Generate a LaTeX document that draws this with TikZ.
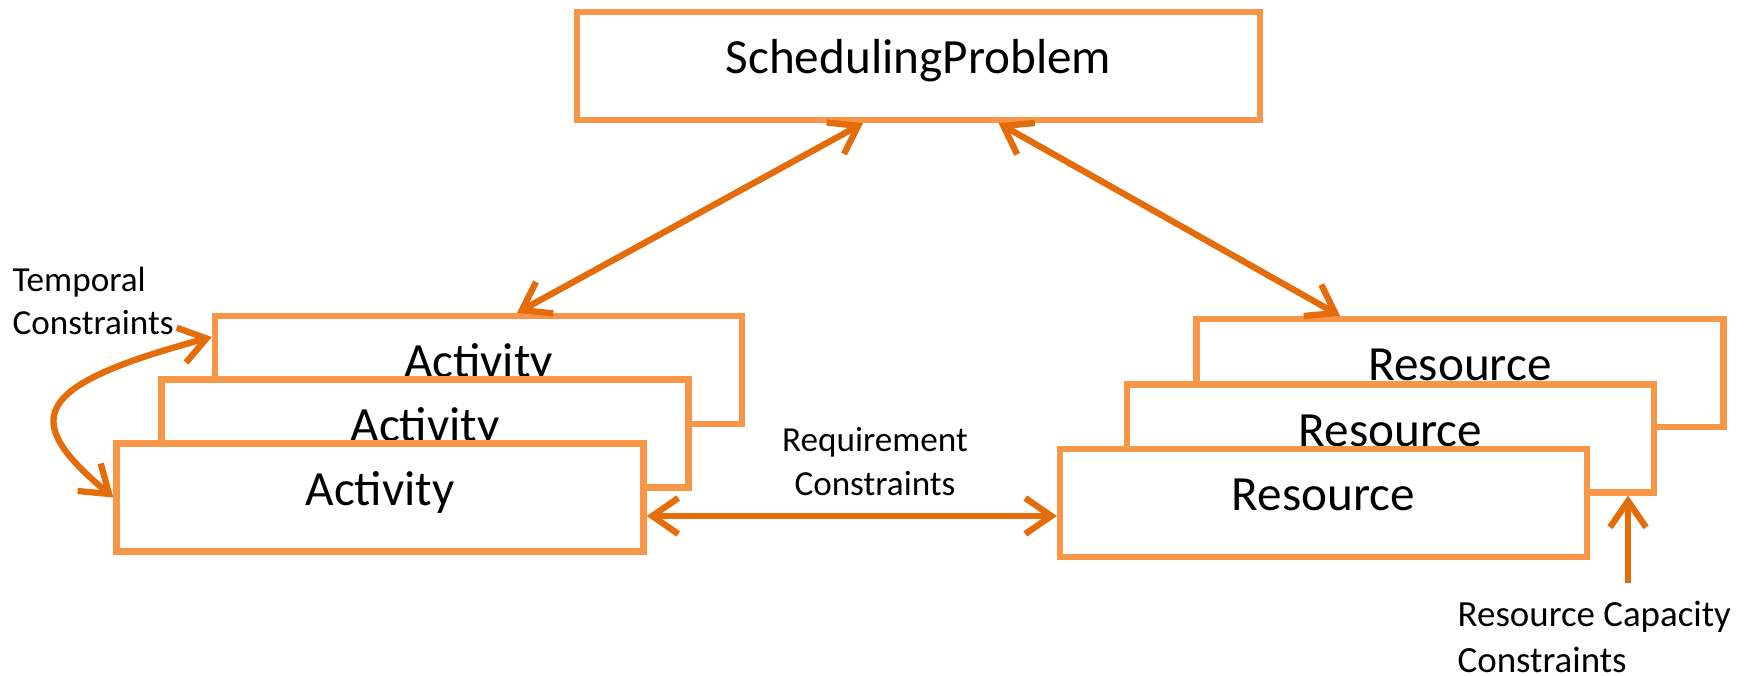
\documentclass[tikz,border=0pt]{standalone}
\usepackage{fontspec}
\setmainfont{Carlito}
\usetikzlibrary{arrows.meta}

\definecolor{boxorange}{RGB}{247,150,70}
\definecolor{linkorange}{RGB}{228,108,10}

\tikzset{
  entity/.style={draw=boxorange, line width=1.8pt, fill=white, inner sep=0pt,
    minimum width=5.27cm, minimum height=1.08cm,
    text height=0.35cm, text depth=0.2cm, font=\fontsize{14}{16}\selectfont},
  link/.style={draw=linkorange, line width=1.8pt},
  note/.style={inner sep=0pt, font=\fontsize{10}{12.4}\selectfont}
}

\begin{document}
\begin{tikzpicture}[>={Straight Barb[length=2.6mm,width=3.6mm]}]
    \useasboundingbox (0,0) rectangle (17.47,-6.76);

    % problem on top
    \node[entity, minimum width=6.83cm] (sp) at (9.185,-0.66) {SchedulingProblem};

    % activities, back to front
    \node[entity] (a1) at (4.785,-3.70) {Activity};
    \node[entity] (a2) at (4.25,-4.335) {Activity};
    \node[entity] (a3) at (3.80,-4.975) {Activity};

    % resources, back to front
    \node[entity] (r1) at (14.60,-3.73) {Resource};
    \node[entity] (r2) at (13.905,-4.385) {Resource};
    \node[entity] (r3) at (13.235,-5.03) {Resource};

    % constraint labels (base = last line)
    \node[note, anchor=base west, align=left] (temp) at (0.12,-3.35) {Temporal\\Constraints};
    \node[note, anchor=base, align=center] (req) at (8.75,-4.95) {Requirement\\Constraints};
    \node[note, font=\fontsize{10.5}{12.9}\selectfont, anchor=base west, align=left] (cap) at (14.57,-6.72) {Resource Capacity\\Constraints};

    \draw[link, <->] ([xshift=-0.555cm]sp.south) -- ([xshift=0.385cm]a1.north);
    \draw[link, <->] ([xshift=0.8cm]sp.south) -- ([xshift=-1.2cm]r1.north);
    \draw[link, <->] ([yshift=-0.185cm]a3.east) -- ([yshift=-0.185cm]a3.east -| r3.west);
    \draw[link, <->] ([yshift=0.33cm]a1.west) .. controls +(195:1.9) and +(140:1.2) .. (a3.west);

    \coordinate (capfoot) at (16.28,-5.83);
    \draw[link, ->] (capfoot) -- (capfoot |- r2.south);
\end{tikzpicture}
\end{document}
